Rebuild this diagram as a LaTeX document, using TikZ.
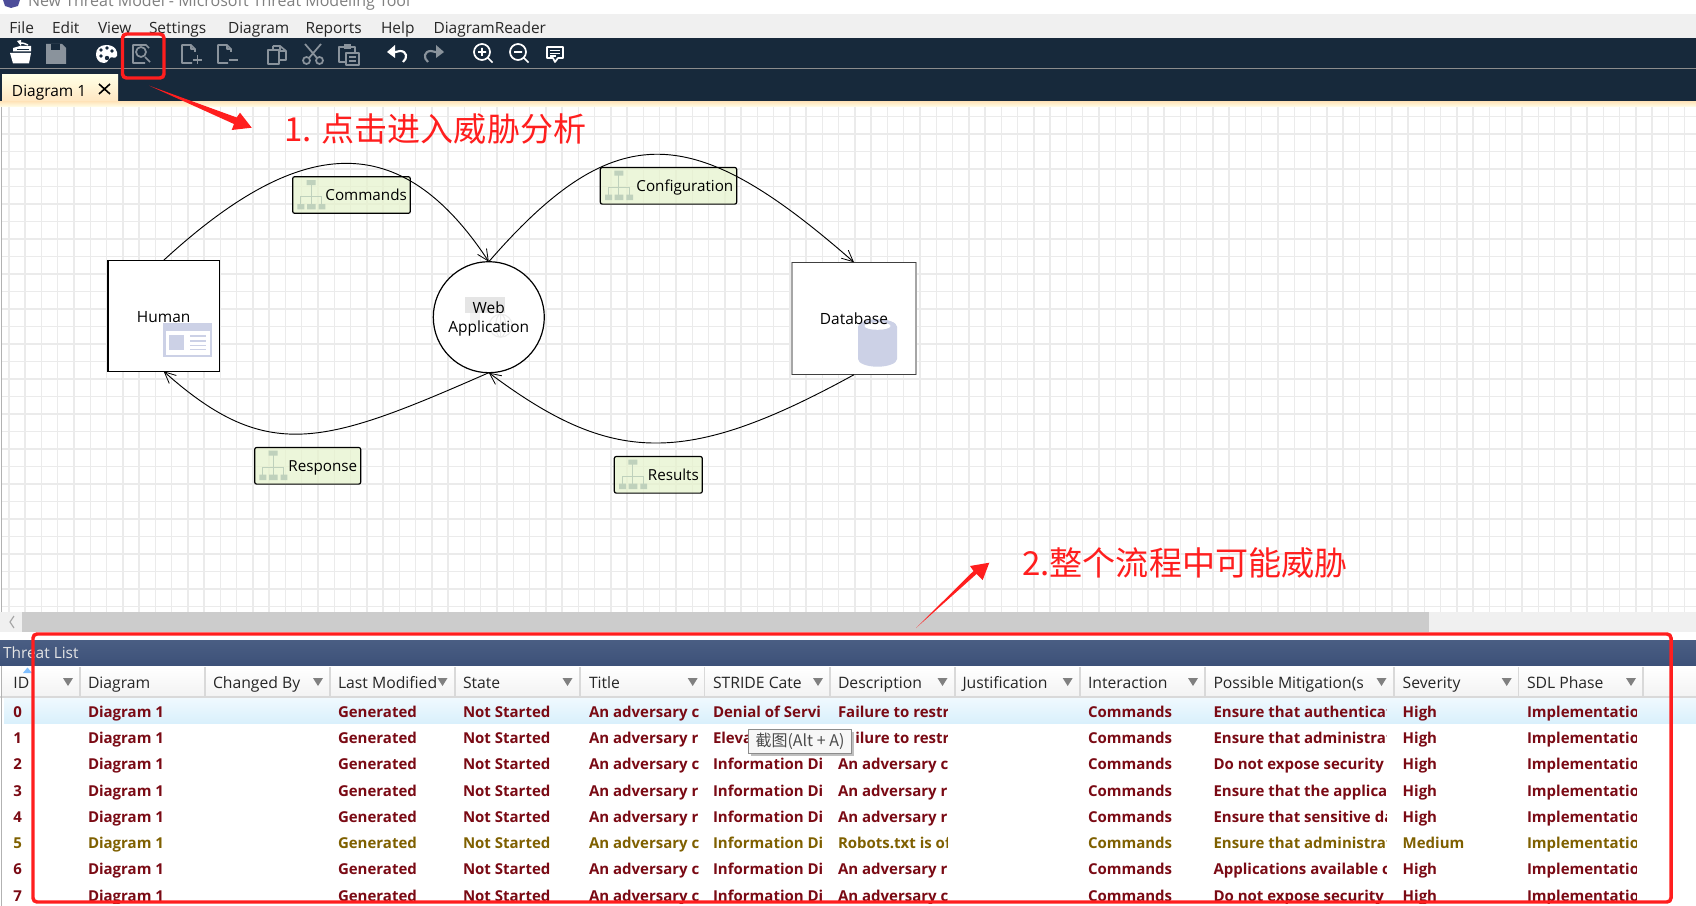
\documentclass[tikz,border=0pt]{standalone}
\usepackage{fontspec}
\setmainfont{Open Sans}
\newfontfamily\cjk{Noto Sans CJK SC}
\usetikzlibrary{arrows.meta,shadings}
\definecolor{toolbar}{HTML}{17293B}
\definecolor{gridc}{HTML}{EBEBEB}
\definecolor{rd}{HTML}{FF1E1E}
\definecolor{maroon}{HTML}{7A0A14}
\definecolor{olive}{HTML}{7F6000}
\definecolor{icblue}{HTML}{CCD1E6}
\definecolor{orgc}{HTML}{BFD1BC}
\definecolor{labelc}{HTML}{E6F3CC}
\definecolor{icgrey}{HTML}{8A939C}
\definecolor{bartop}{HTML}{4A5E83}
\definecolor{barbot}{HTML}{3D5179}
\definecolor{rowtop}{HTML}{F0F9FE}
\definecolor{rowbot}{HTML}{D9F0FC}
\newcommand\fs[1]{\fontsize{#1}{#1}\selectfont}
\tikzset{
  x=0.75pt,y=-0.75pt,
  txt/.style={inner sep=0pt,outer sep=0pt,anchor=base west},
  menu/.style={txt,text=black!85,font=\fs{11.6}},
  hdr/.style={txt,text=black!85,font=\fs{11.8}},
  cell/.style={txt,font=\bfseries\fs{11.25}},
  flow/.style={draw=black,line width=0.9pt,rounded corners=1.5pt,fill=labelc,fill opacity=0.72,text opacity=1,
     minimum height=27.5pt,inner xsep=2.6pt,inner ysep=0pt,outer sep=0pt,align=flush right,
     text height=8.6pt,text depth=0pt,font=\fs{11.4}},
  conn/.style={draw=black,line width=0.7pt,-{Straight Barb[length=8.5pt,width=8pt,line width=0.6pt]}},
  icw/.style={draw=white,line width=1.3pt,line join=round},
  icg/.style={draw=icgrey,line width=1.3pt,line join=round},
  redbox/.style={draw=rd,line width=2.6pt,rounded corners=3pt},
  redtxt/.style={text=rd,inner sep=0pt,anchor=west,font=\cjk\fs{24.8}},
}
\newcommand\orgicon[2]{\begin{scope}[shift={(#1,#2)}]
  \fill[orgc] (14,3.3) rectangle (23,8.3) (4.7,27.3) rectangle (11.7,32.7) (14.3,27.3) rectangle (23,32.7) (26,27.3) rectangle (32.7,32.7);
  \draw[orgc,line width=1pt] (18.5,8) -- (18.5,27.5) (8,27.5) -- (8,20) -- (29,20) -- (29,27.5);
\end{scope}}
\newcommand\tcol[4]{\begin{scope}
  \clip (#2-3,698) rectangle (#3,903);
  \foreach \t [count=\i from 0] in {#4} {
    \pgfmathsetmacro\yy{{712,737.6,764,790.7,816.7,842.7,868.7,895.7}[\i]+5.5}
    \ifnum\i=5 \def\cc{olive}\else\def\cc{maroon}\fi
    \node[cell,text=\cc] (#1\i) at (#2,\yy) {\t};
  }
\end{scope}}
\begin{document}
\begin{tikzpicture}
\useasboundingbox (0,0) rectangle (1696,906);
\fill[white] (0,0) rectangle (1696,906);
% title bar
\fill[white!50!blue!60!black] (11,0) -- (20,0) -- (18,6) -- (11,8) -- (5,6) -- (3,0) -- cycle;
\begin{scope}\clip (0,0) rectangle (1696,14);
\node[txt,text=black!50,font=\fs{12.0}] (title) at (28,7) {New Threat Model - Microsoft Threat Modeling Tool};
\end{scope}
% menu bar
\fill[black!6] (0,14) rectangle (1696,38);
\foreach \m/\x [count=\k] in {File/9.5,Edit/52,View/98,Settings/149,Diagram/228,Reports/305.5,Help/381,DiagramReader/433.5}
  \node[menu] (menu\k) at (\x,33.5) {\m};
% toolbar and tab strip
\fill[toolbar] (0,38) rectangle (1696,102);
\draw[black!45,line width=0.7pt] (0,68.5) -- (1696,68.5);
\shade[top color=white!90!yellow,bottom color=yellow!18!orange!25] (2,75) rectangle (118,103);
\node[menu,text=black] (tab) at (12,96.5) {Diagram 1};
\draw[black,line width=1.2pt] (99,84) -- (110,94) (110,84) -- (99,94);
% toolbar icons
\fill[white] (10,53) -- (31,53) -- (29,63.5) -- (13,63.5) -- cycle;
\fill[white] (13,51.5) -- (13,48) -- (20,46) -- (31,46) -- (31,51.5) -- cycle;
\draw[toolbar,line width=0.7pt] (17,49) -- (29,49);
\draw[icw,line width=1.1pt] (28,45) .. controls (25,43) and (22,43) .. (19,43);
\fill[white] (17,41) -- (21,40) -- (21,46) -- cycle;
\fill[icgrey] (46,44) -- (62,44) -- (66,48) -- (66,64) -- (46,64) -- cycle;
\fill[toolbar] (51,44) rectangle (60,50);
\fill[white] (106,45) .. controls (116,45) and (118,52) .. (117,56) .. controls (115,60) and (111,55) .. (109,59) .. controls (108,62) and (106,63) .. (104,63) .. controls (98,63) and (96,58) .. (96,54) .. controls (96,49) and (100,45) .. (106,45) -- cycle;
\fill[toolbar] (101,50) circle[radius=1.8] (107,48) circle[radius=1.8] (112,51) circle[radius=1.8] (101,56) circle[radius=1.8] (107,58) circle[radius=2.2];
\draw[icg] (149,48) -- (146,45) -- (133,45) -- (133,63) -- (145,63);
\draw[icg] (141,52) circle[radius=5] (145,57) -- (150,62);
\draw[icg] (195,52) -- (195,49) -- (191,45) -- (182,45) -- (182,63) -- (192,63) (191,45) -- (191,49) -- (195,49);
\draw[icg] (193,60) -- (202,60) (197.5,55.5) -- (197.5,64);
\draw[icg] (231,52) -- (231,49) -- (227,45) -- (218,45) -- (218,63) -- (228,63) (227,45) -- (227,49) -- (231,49);
\draw[icg] (229,60) -- (238,60);
\draw[icg] (273,46) -- (280,46) -- (286,51) -- (286,60) -- (280,60) (273,46) -- (273,50) (280,46) -- (280,51) -- (286,51);
\draw[icg] (268,50) -- (279,50) -- (279,64) -- (268,64) -- cycle;
\draw[icg] (305,44) -- (317,58) (321,44) -- (309,58);
\draw[icg] (306.5,60.5) circle[radius=3.5] (319.5,60.5) circle[radius=3.5];
\draw[icg] (355,53) -- (355,47) -- (339,47) -- (339,62) -- (346,62);
\fill[icgrey] (344,44) rectangle (351,49);
\draw[icg] (346,53) -- (359,53) -- (359,65) -- (346,65) -- cycle (349,57) -- (356,57) (349,61) -- (356,61);
\draw[icw,line width=1.6pt] (391,53) -- (400,51) .. controls (407,51) and (408,58) .. (403,62);
\fill[white] (387,52) -- (395,45) -- (395,58) -- cycle;
\draw[icg,line width=1.6pt] (440,53) -- (431,51) .. controls (424,51) and (423,58) .. (428,62);
\fill[icgrey] (444,52) -- (436,45) -- (436,58) -- cycle;
\draw[icw] (482,52) circle[radius=8] (488,58) -- (492.5,62.5) (478,52) -- (486,52) (482,48) -- (482,56);
\draw[icw] (518,52) circle[radius=8] (524,58) -- (528.5,62.5) (514,52) -- (522,52);
\draw[icw] (547,47) -- (563,47) -- (563,58) -- (558,58) -- (555,62) -- (553,58) -- (547,58) -- cycle;
\draw[icw,line width=0.8pt] (550,50.5) -- (560,50.5) (550,53.5) -- (560,53.5) (550,56) -- (556,56);
% canvas
\shade[top color=yellow!25!orange!25,bottom color=yellow!8] (0,102) rectangle (1696,107);
\begin{scope}
\clip (2,107) rectangle (1696,612);
\foreach \k in {0,...,104} \draw[gridc,line width=1.1pt] ({8.9+16.27*\k},107) -- ({8.9+16.27*\k},612);
\foreach \k in {0,...,28} \draw[gridc,line width=1.1pt] (0,{116.7+17.5*\k}) -- (1696,{116.7+17.5*\k});
\end{scope}
\draw[black!30,line width=0.8pt] (1.5,107) -- (1.5,612);
% scrollbar
\fill[black!6] (0,612) rectangle (1696,632);
\fill[black!20] (22,612) rectangle (1429,632);
\draw[black!35,line width=0.9pt] (14,616) -- (10,622) -- (14,628);
% diagram elements
\node[draw=black,line width=0.9pt,fill=white,minimum width=83.5pt,minimum height=83.25pt,outer sep=0pt] (human) at (163.65,315.8) {};
\fill[icblue] (163,323) rectangle (212,357);
\fill[white] (165.5,331) rectangle (209.5,354.5);
\fill[icblue] (169,335) rectangle (184,350);
\draw[icblue,line width=0.9pt] (190,336) -- (206,336) (190,341) -- (206,341) (190,345.5) -- (206,345.5) (190,349.5) -- (206,349.5);
\node[inner sep=0pt,font=\fs{11.6}] (humanlabel) at (163.65,317.5) {Human};
\node[circle,draw=black,line width=0.9pt,fill=white,minimum size=83.25pt,inner sep=0pt,outer sep=0pt] (web) at (488.8,317.2) {};
\fill[black!10] (465,297) rectangle (505,313);
\fill[black!5] (470,313) rectangle (480,325);
\draw[black!8,line width=0.8pt] (500.7,325.7) circle[radius=11.5] (489.2,325.7) -- (512.2,325.7) (500.7,314.2) -- (500.7,337.2) (500.7,325.7) ellipse[x radius=5,y radius=11.5];
\node[inner sep=0pt,font=\fs{11.6},align=center,text depth=0pt] (weblabel) at (488.8,317) {Web\\[3pt]Application};
\node[fill=white,minimum width=93pt,minimum height=84.3pt,outer sep=0pt] (db) at (854,318.5) {};
\draw[black!35,line width=0.9pt] (db.north west) -- (db.south west) (db.north east) -- (db.south east);
\draw[black!75,line width=0.9pt] (db.north west) -- (db.north east) (db.south west) -- (db.south east);
\fill[icblue] (858,327) arc[start angle=180,end angle=360,x radius=19.5,y radius=7.7] -- (897,359) arc[start angle=0,end angle=180,x radius=19.5,y radius=7.7] -- cycle;
\fill[icblue] (877.5,327) ellipse[x radius=19.5,y radius=7.7];
\fill[white] (877.5,326) ellipse[x radius=13,y radius=3.8];
\node[inner sep=0pt,font=\fs{11.6}] (dblabel) at (854,319) {Database};
% flow labels
\node[flow,minimum width=88.2pt,text width=83pt] (commands) at (351.5,195) {Commands};
\orgicon{292.7}{176.7}
\node[flow,minimum width=79.5pt,text width=74.3pt] (response) at (307.7,465.8) {Response};
\orgicon{254.7}{447.3}
\node[flow,minimum width=102.3pt,text width=97.1pt] (config) at (668.5,185.8) {Configuration};
\orgicon{600.3}{167.3}
\node[flow,minimum width=66pt,text width=60.8pt] (results) at (658.3,474.8) {Results};
\orgicon{614.3}{456.3}
% connectors
\draw[conn] (human.north) .. controls (300,135) and (400,127) .. (web.north);
\draw[conn] (web.north) .. controls (617,114) and (695,123) .. (db.north);
\draw[conn] (web.south) .. controls (324,445) and (267.6,464) .. (human.south);
\draw[conn] (db.south) .. controls (684,468) and (611,464) .. (web.south);
% threat list header
\shade[top color=bartop,bottom color=barbot] (0,640) rectangle (1696,665);
\node[txt,text=white!90!black,font=\fs{11.6}] (threatlist) at (3,658) {Threat List};
% table header
\shade[top color=white,bottom color=black!5] (1,667) rectangle (1696,697);
\draw[black!15,line width=0.8pt] (0,697) -- (1696,697);
\draw[black!30,line width=0.6pt] (1,666) -- (1,906);
\foreach \x in {80,205,330,455,580,704.6,830,955,1080,1205,1394,1518.6,1643}
  \draw[black!15,line width=0.9pt] (\x,667) -- (\x,697);
\foreach \t/\x [count=\k] in {ID/13.5,Diagram/88,Changed By/213,Last Modified/338,State/463,Title/589,STRIDE Cate/713,Description/838,Justification/962.5,Interaction/1088,Possible Mitigation(s/1213.5,Severity/1402.7,SDL Phase/1527}
  \node[hdr] (head\k) at (\x,688) {\t};
\foreach \x in {68,318,442.5,567.5,692.7,818,942.5,1067.7,1193,1381.5,1506.7,1631}
  \fill[black!50] (\x-5,678) -- (\x+5,678) -- (\x,686) -- cycle;
\fill[blue!50!cyan!50!white] (23,673) -- (32,673) -- (27.5,667.5) -- cycle;
% rows
\shade[top color=rowtop,bottom color=rowbot] (4,698) rectangle (1696,723);
\tcol{id}{13.5}{60}{0,1,2,3,4,5,6,7}
\tcol{dg}{88}{200}{Diagram 1,Diagram 1,Diagram 1,Diagram 1,Diagram 1,Diagram 1,Diagram 1,Diagram 1}
\tcol{lm}{338}{450}{Generated,Generated,Generated,Generated,Generated,Generated,Generated,Generated}
\tcol{st}{463}{575}{Not Started,Not Started,Not Started,Not Started,Not Started,Not Started,Not Started,Not Started}
\tcol{ti}{589}{698}{An adversary c,An adversary r,An adversary c,An adversary r,An adversary r,An adversary c,An adversary c,An adversary c}
\tcol{sc}{713}{822}{Denial of Servi,Eleva,Information Di,Information Di,Information Di,Information Di,Information Di,Information Di}
\tcol{de}{838}{947}{Failure to restri,Failure to restri,An adversary c,An adversary r,An adversary r,Robots.txt is of,An adversary r,An adversary c}
\tcol{in}{1088}{1198}{Commands,Commands,Commands,Commands,Commands,Commands,Commands,Commands}
\tcol{pm}{1213.5}{1386}{Ensure that authenticat,Ensure that administrat,Do not expose security,Ensure that the applicat,Ensure that sensitive da,Ensure that administrat,Applications available c,Do not expose security}
\tcol{se}{1402.7}{1512}{High,High,High,High,High,Medium,High,High}
\tcol{sd}{1527}{1636}{Implementatio,Implementatio,Implementatio,Implementatio,Implementatio,Implementatio,Implementatio,Implementatio}
% tooltip
\fill[black!25] (751,732) rectangle (853.5,756);
\node[draw=black!45,line width=0.6pt,fill=black!3,minimum width=77pt,minimum height=18pt,inner sep=0pt,outer sep=0pt,font=\cjk\fs{12},text=black!70] (tip) at (800,741.3) {截图(Alt + A)};
% red annotations
\draw[redbox] (122.5,34) rectangle (164,78);
\draw[redbox] (33,634) rectangle (1671,902);
\fill[rd] (149.3,85.7) -- (234,124) -- (231.7,130) -- (251.7,127.7) -- (240,112.7) -- (236.7,117.5) -- cycle;
\fill[rd] (916,628) -- (976.5,574) -- (982.7,580) -- (989.3,562.7) -- (970,566) -- (973.5,571) -- cycle;
\node[redtxt] (note1) at (284,129) {1. 点击进入威胁分析};
\node[redtxt] (note2) at (1022,563) {2.整个流程中可能威胁};
\end{tikzpicture}
\end{document}
